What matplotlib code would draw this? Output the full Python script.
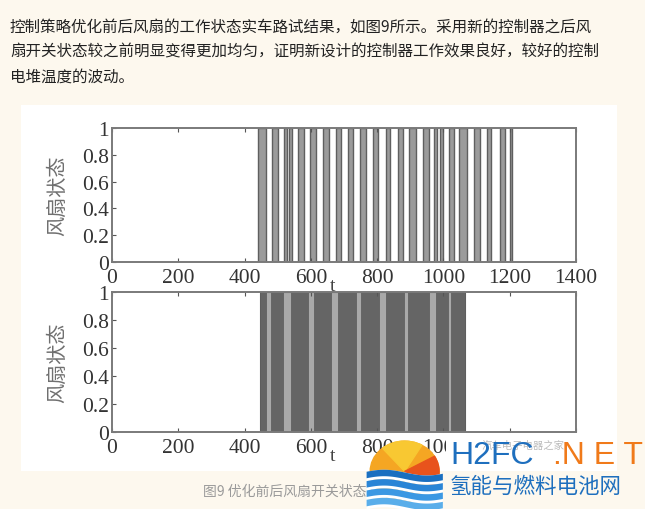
import matplotlib.pyplot as plt
import matplotlib.patches as mpatches
import numpy as np

# 优化前：风扇开启区间 (t)
before_on_start = [442, 482, 518, 533, 561, 597, 636, 676, 712, 748, 788, 827,
                   864, 897, 939, 973, 991, 1018, 1048, 1091, 1130, 1170, 1200]
before_on_end = [464, 500, 527, 542, 579, 615, 655, 691, 727, 767, 803, 839,
                 879, 918, 955, 982, 1000, 1033, 1070, 1109, 1145, 1185, 1206]

# 优化后：高频开关区间，深色块为开关密集段
after_span = [448, 1064]
after_dense_start = [448, 479, 539, 609, 682, 752, 827, 894, 979, 1024]
after_dense_end = [464, 515, 591, 661, 736, 806, 882, 955, 1015, 1064]

x_ticks = [0, 200, 400, 600, 800, 1000, 1200, 1400]
y_ticks = [0, 0.2, 0.4, 0.6, 0.8, 1]
y_tick_labels = ['0', '0.2', '0.4', '0.6', '0.8', '1']

para_lines = [
    '控制策略优化前后风扇的工作状态实车路试结果，如图9所示。采用新的控制器之后风',
    '扇开关状态较之前明显变得更加均匀，证明新设计的控制器工作效果良好，较好的控制',
    '电堆温度的波动。',
]
caption = '图9 优化前后风扇开关状态对比'

W, H = 645, 510
bg = '#fdf8ee'
cjk = ['Noto Sans CJK SC', 'DejaVu Sans']
serif = ['Liberation Serif', 'DejaVu Serif']

fig = plt.figure(figsize=(W / 100, H / 100), dpi=100)
fig.patch.set_facecolor(bg)

def fx(px):
    return px / W

def fy(py):
    return 1 - py / H

# 白色图片区域
fig.patches.append(mpatches.Rectangle((fx(21), fy(472)), fx(617) - fx(21), fy(106) - fy(472),
                                      transform=fig.transFigure, facecolor='white',
                                      edgecolor='none', zorder=-5))

# 正文
for i, line in enumerate(para_lines):
    fig.text(fx(10), fy(27 + 25 * i), line, family=cjk, fontsize=11.2,
             color='#222222', va='center', ha='left')

ax1 = fig.add_axes([fx(112), fy(263), fx(576) - fx(112), fy(129) - fy(263)])
ax2 = fig.add_axes([fx(112), fy(433), fx(576) - fx(112), fy(293) - fy(433)])

w1 = np.array(before_on_end) - np.array(before_on_start)
ax1.bar(before_on_start, 1, width=w1, align='edge', color='#9b9b9b',
        edgecolor='#5f5f5f', linewidth=1.0)

ax2.bar(after_span[0], 1, width=after_span[1] - after_span[0], align='edge',
        color='#a9a9a9', edgecolor='#707070', linewidth=0.8)
w2 = np.array(after_dense_end) - np.array(after_dense_start)
ax2.bar(after_dense_start, 1, width=w2, align='edge', color='#656565',
        edgecolor='#5a5a5a', linewidth=0.5)

for ax in (ax1, ax2):
    ax.set_xlim(0, 1400)
    ax.set_ylim(0, 1)
    ax.set_facecolor('white')
    ax.set_xticks(x_ticks)
    ax.set_xticklabels([str(v) for v in x_ticks], family=serif, fontsize=15.5, color='#333333')
    ax.set_yticks(y_ticks)
    ax.set_yticklabels(y_tick_labels, family=serif, fontsize=15.5, color='#333333')
    ax.tick_params(axis='x', direction='in', length=3, color='#555555', top=True,
                   pad=4)
    ax.tick_params(axis='y', direction='in', length=3, color='#555555', pad=2)
    for s in ax.spines.values():
        s.set_color('#7a7a7a')
        s.set_linewidth(1.4)
    ax.set_ylabel('风扇状态', family=cjk, fontsize=14.5, color='#6f6f6f')
    ax.yaxis.set_label_coords(-0.095, 0.5)
    ax.set_xlabel('t', family=serif, fontsize=14, color='#444444')
    ax.xaxis.set_label_coords(0.476, -0.11)

# 下图右侧刻度被水印遮住
for lbl in ax2.get_xticklabels()[-2:]:
    lbl.set_visible(False)

# 图注
fig.text(fx(203), fy(492), caption, family=cjk, fontsize=10, style='italic',
         color='#9a9a9a', va='center', ha='left')

# 水印
fig.patches.append(mpatches.Rectangle((fx(446), fy(471)), fx(617) - fx(446), fy(438) - fy(471),
                                      transform=fig.transFigure, facecolor='white',
                                      edgecolor='none', zorder=5))
fig.text(fx(482), fy(446), '汽车电子电器之家', family=cjk, fontsize=7.5,
         color='#bbbbbb', va='center', ha='left', zorder=6)
logo = fig.add_axes([fx(362), fy(512), fx(444) - fx(362), fy(440) - fy(512)])
logo.set_zorder(7)
logo.set_xlim(0, 1)
logo.set_ylim(0, 1)
logo.axis('off')
logo.add_patch(mpatches.Circle((0.52, 0.55), 0.42, color='#f5a623'))
logo.add_patch(mpatches.Wedge((0.52, 0.55), 0.42, 60, 130, color='#f8c832'))
logo.add_patch(mpatches.Wedge((0.52, 0.55), 0.42, -30, 30, color='#e8531c'))
xs = np.linspace(0.05, 0.98, 60)
for k, c in enumerate(['#1a6fc0', '#2a85d6', '#3b98e3', '#5aaeea']):
    base = 0.50 - 0.13 * k
    wave = 0.04 * np.sin(xs * 6)
    logo.fill_between(xs, base - 0.09 + wave, base + 0.04 + wave, color='white', lw=0)
    logo.fill_between(xs, base - 0.05 + wave, base + 0.04 + wave, color=c, lw=0)

fig.text(fx(450), fy(456), 'H2FC', family=['Liberation Sans'], fontsize=23,
         color='#1e6fbe', va='center', ha='left', zorder=8)
fig.text(fx(553), fy(456), '.N E T', family=['Liberation Sans'], fontsize=23,
         color='#f07a1a', va='center', ha='left', zorder=8)
fig.text(fx(450), fy(487), '氢能与燃料电池网', family=cjk, fontsize=15.5,
         color='#1e6fbe', va='center', ha='left', zorder=8)

fig.savefig('out.png', dpi=100, facecolor=bg)
